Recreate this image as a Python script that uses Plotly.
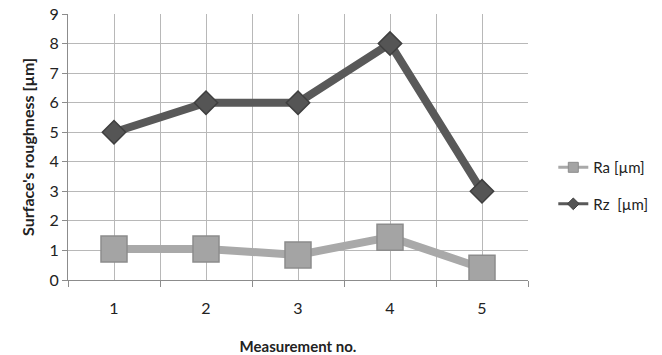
import plotly.graph_objects as go

# Measurement data
measurements = [1, 2, 3, 4, 5]
ra_values = [1.05, 1.05, 0.85, 1.45, 0.4]
rz_values = [5, 6, 6, 8, 3]
y_ticks = [0, 1, 2, 3, 4, 5, 6, 7, 8, 9]

FONT = "Lato, 'Open Sans', sans-serif"
GRID = "#b8b8b8"
RA_LINE, RA_FILL, RA_EDGE = "#a9a9a9", "#a4a4a4", "#8c8c8c"
RZ_LINE, RZ_FILL, RZ_EDGE = "#595959", "#555555", "#3f3f3f"

fig = go.Figure()

# Data series (legend entries are drawn separately with small markers)
fig.add_trace(go.Scatter(
    x=measurements, y=ra_values, mode="lines+markers", showlegend=False,
    line=dict(color=RA_LINE, width=8),
    marker=dict(symbol="square", size=26, color=RA_FILL,
                line=dict(color=RA_EDGE, width=1.5)),
))
fig.add_trace(go.Scatter(
    x=measurements, y=rz_values, mode="lines+markers", showlegend=False,
    line=dict(color=RZ_LINE, width=8),
    marker=dict(symbol="diamond", size=18, color=RZ_FILL,
                line=dict(color=RZ_EDGE, width=1.5)),
))

# Legend entries
fig.add_trace(go.Scatter(
    x=[None], y=[None], name="Ra [µm]", mode="lines+markers",
    line=dict(color=RA_LINE, width=3),
    marker=dict(symbol="square", size=10, color=RA_FILL,
                line=dict(color=RA_EDGE, width=1)),
    legendgroup="ra",
))
fig.add_trace(go.Scatter(
    x=[None], y=[None], name="Rz\u00a0\u00a0[µm]", mode="lines+markers",
    line=dict(color=RZ_LINE, width=3),
    marker=dict(symbol="diamond", size=9, color=RZ_FILL,
                line=dict(color=RZ_EDGE, width=1)),
    legendgroup="rz",
))

fig.update_layout(
    width=662, height=355,
    margin=dict(l=68, r=134, t=14, b=75, autoexpand=False),
    paper_bgcolor="white", plot_bgcolor="white",
    font=dict(family=FONT, size=15, color="#222222"),
    showlegend=True,
    legend=dict(x=1.055, y=0.355, xanchor="left", yanchor="middle",
                traceorder="grouped", tracegroupgap=14,
                font=dict(size=15, color="#222222"),
                bgcolor="rgba(0,0,0,0)"),
    xaxis=dict(
        range=[0.5, 5.5], tickmode="array", tickvals=measurements,
        ticktext=[str(m) for m in measurements],
        showgrid=True, gridcolor=GRID, gridwidth=1,
        ticks="", showline=True, linecolor="#8c8c8c", linewidth=1,
        zeroline=False, ticklabelstandoff=14, automargin=False,
        tickfont=dict(size=16),
        minor=dict(tickmode="linear", tick0=0.5, dtick=1, showgrid=True,
                   gridcolor=GRID, gridwidth=1, ticks="outside", ticklen=6,
                   tickcolor="#8c8c8c"),
        title=dict(text="<b>Measurement no.</b>", font=dict(size=15), standoff=40),
    ),
    yaxis=dict(
        range=[0, 9], tickmode="array", tickvals=y_ticks,
        showgrid=True, gridcolor=GRID, gridwidth=1,
        ticks="outside", ticklen=5, tickcolor="#8c8c8c",
        showline=True, linecolor="#8c8c8c", linewidth=1, zeroline=False,
        tickfont=dict(size=16), automargin=False,
        title=dict(text="<b>Surface's roughness [µm]</b>", font=dict(size=16), standoff=10),
    ),
)

fig.write_html("out.html")
